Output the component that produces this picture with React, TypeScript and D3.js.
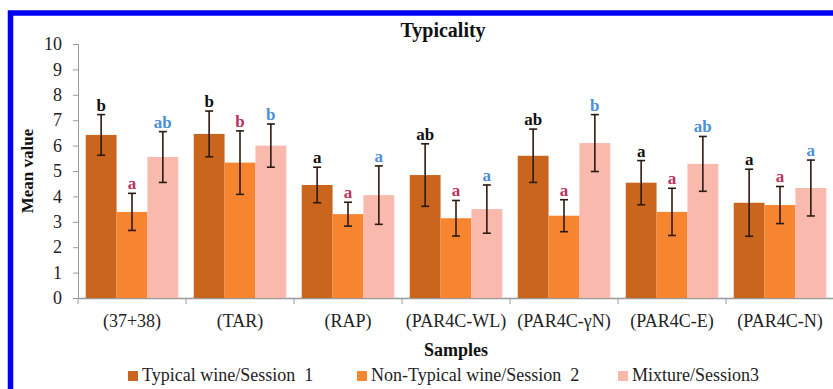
import React, { useRef, useEffect } from 'react';
import * as d3 from 'd3';

const samples = ['(37+38)', '(TAR)', '(RAP)', '(PAR4C-WL)', '(PAR4C-\u03b3N)', '(PAR4C-E)', '(PAR4C-N)'];
const seriesNames = ['Typical wine/Session  1', 'Non-Typical wine/Session  2', 'Mixture/Session3'];
const session1 = [6.42, 6.46, 4.45, 4.84, 5.6, 4.54, 3.75];
const session2 = [3.39, 5.33, 3.3, 3.14, 3.24, 3.39, 3.66];
const session3 = [5.55, 6.0, 4.05, 3.5, 6.1, 5.28, 4.33];
const err1 = [0.8, 0.9, 0.7, 1.23, 1.05, 0.87, 1.32];
const err2 = [0.73, 1.25, 0.47, 0.7, 0.63, 0.93, 0.73];
const err3 = [1.0, 0.85, 1.15, 0.95, 1.12, 1.08, 1.1];
const letters1 = ['b', 'b', 'a', 'ab', 'ab', 'a', 'a'];
const letters2 = ['a', 'b', 'a', 'a', 'a', 'a', 'a'];
const letters3 = ['ab', 'b', 'a', 'a', 'b', 'ab', 'a'];
const yTicks = [0, 1, 2, 3, 4, 5, 6, 7, 8, 9, 10];

const barColors = ['#c9651c', '#f7852f', '#f9b9ac'];
const letterColors = ['#111111', '#b8335e', '#4d8fd8'];

const App: React.FC = () => {
  const ref = useRef<SVGSVGElement>(null);

  useEffect(() => {
    const svg = d3.select(ref.current);
    svg.selectAll('*').remove();
    const W = 833;
    const H = 389;
    const font = '"Liberation Serif", "Times New Roman", serif';

    svg.append('rect').attr('width', W).attr('height', H).attr('fill', '#fff');
    // blue frame
    svg.append('rect')
      .attr('x', 10.5).attr('y', 13)
      .attr('width', W + 20).attr('height', H + 20)
      .attr('fill', 'none').attr('stroke', '#0000f5').attr('stroke-width', 5.5);

    const x0 = d3.scaleBand().domain(samples).range([78, 834]).paddingInner(0).paddingOuter(0);
    const x1 = d3.scaleBand().domain(['0', '1', '2']).range([0, x0.bandwidth()]).paddingInner(0).paddingOuter(0.25);
    const y = d3.scaleLinear().domain([0, 10]).range([298, 44]);

    // y axis
    const yAxis = svg.append('g').attr('transform', 'translate(78,0)')
      .call(d3.axisLeft(y).tickValues(yTicks).tickSize(5).tickPadding(11));
    yAxis.selectAll('path, line').attr('stroke', '#9a9a9a');
    yAxis.selectAll('text').attr('font-family', font).attr('font-size', 18).attr('fill', '#222');

    // x axis
    const xAxis = svg.append('g').attr('transform', 'translate(0,298)')
      .call(d3.axisBottom(x0).tickSize(0).tickPadding(16));
    xAxis.select('path').attr('stroke', '#9a9a9a').attr('stroke-width', 1.5);
    xAxis.selectAll('text').attr('font-family', font).attr('font-size', 18).attr('fill', '#222');
    xAxis.selectAll('.sep')
      .data(samples)
      .enter()
      .append('line')
      .attr('class', 'sep')
      .attr('x1', (d) => x0(d) as number)
      .attr('x2', (d) => x0(d) as number)
      .attr('y1', 0).attr('y2', 6)
      .attr('stroke', '#9a9a9a');

    const series = [
      { vals: session1, errs: err1, letters: letters1 },
      { vals: session2, errs: err2, letters: letters2 },
      { vals: session3, errs: err3, letters: letters3 },
    ];

    series.forEach((s, si) => {
      const g = svg.append('g');
      const data = samples.map((c, i) => ({ c, v: s.vals[i], e: s.errs[i], l: s.letters[i] }));
      const bx = (d: any) => (x0(d.c) as number) + (x1(String(si)) as number);
      const bw = x1.bandwidth();
      g.selectAll('rect').data(data).enter().append('rect')
        .attr('x', bx).attr('width', bw)
        .attr('y', (d) => y(d.v)).attr('height', (d) => y(0) - y(d.v))
        .attr('fill', barColors[si]);
    });

    series.forEach((s, si) => {
      const g = svg.append('g');
      const data = samples.map((c, i) => ({ c, v: s.vals[i], e: s.errs[i], l: s.letters[i] }));
      const cx = (d: any) => (x0(d.c) as number) + (x1(String(si)) as number) + x1.bandwidth() / 2;
      g.selectAll('line.v').data(data).enter().append('line')
        .attr('x1', cx).attr('x2', cx)
        .attr('y1', (d) => y(d.v + d.e)).attr('y2', (d) => y(d.v - d.e))
        .attr('stroke', '#2b1a12').attr('stroke-width', 1.6);
      g.selectAll('line.t').data(data).enter().append('line')
        .attr('x1', (d) => cx(d) - 4).attr('x2', (d) => cx(d) + 4)
        .attr('y1', (d) => y(d.v + d.e)).attr('y2', (d) => y(d.v + d.e))
        .attr('stroke', '#2b1a12').attr('stroke-width', 1.6);
      g.selectAll('line.b').data(data).enter().append('line')
        .attr('x1', (d) => cx(d) - 4).attr('x2', (d) => cx(d) + 4)
        .attr('y1', (d) => y(d.v - d.e)).attr('y2', (d) => y(d.v - d.e))
        .attr('stroke', '#2b1a12').attr('stroke-width', 1.6);
      g.selectAll('text').data(data).enter().append('text')
        .attr('x', cx).attr('y', (d) => y(d.v + d.e) - 4)
        .attr('text-anchor', 'middle')
        .attr('font-family', font).attr('font-weight', 'bold').attr('font-size', 17)
        .attr('fill', letterColors[si])
        .text((d) => d.l);
    });

    // title
    svg.append('text').attr('x', 443).attr('y', 37).attr('text-anchor', 'middle')
      .attr('font-family', font).attr('font-weight', 'bold').attr('font-size', 20)
      .attr('fill', '#111').text('Typicality');

    // axis titles
    svg.append('text').attr('transform', 'translate(33,171) rotate(-90)').attr('text-anchor', 'middle')
      .attr('font-family', font).attr('font-weight', 'bold').attr('font-size', 17)
      .attr('fill', '#111').text('Mean value');
    svg.append('text').attr('x', 456).attr('y', 356).attr('text-anchor', 'middle')
      .attr('font-family', font).attr('font-weight', 'bold').attr('font-size', 18)
      .attr('fill', '#111').text('Samples');

    // legend
    const legendX = [128, 357, 618];
    seriesNames.forEach((name, i) => {
      svg.append('rect').attr('x', legendX[i]).attr('y', 371).attr('width', 10).attr('height', 10)
        .attr('fill', barColors[i]);
      svg.append('text').attr('x', legendX[i] + 14).attr('y', 381)
        .attr('font-family', font).attr('font-size', 18).attr('fill', '#222')
        .attr('xml:space', 'preserve').style('white-space', 'pre')
        .text(name);
    });
  }, []);

  return (
    <svg
      ref={ref}
      width={833}
      height={389}
      style={{ position: 'absolute', left: 0, top: 0, display: 'block' }}
    />
  );
};

export default App;
